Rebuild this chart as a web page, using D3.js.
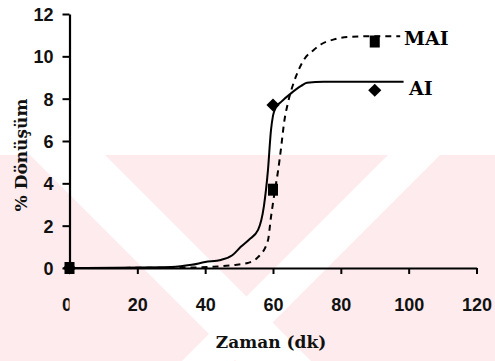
<!DOCTYPE html>
<html>
<head>
<meta charset="utf-8">
<script src="https://cdn.jsdelivr.net/npm/d3@7"></script>
<style>
  body { margin: 0; background: #fff; }
  svg { display: block; }
</style>
</head>
<body>
<div id="chart"></div>
<script>
// x ticks and y ticks
const xTicks = [0, 20, 40, 60, 80, 100, 120];
const yTicks = [0, 2, 4, 6, 8, 10, 12];

// measured points
const aiT = [0, 60, 90];
const aiY = [0, 7.7, 8.4];
const maiT = [0, 60, 90];
const maiY = [0, 3.7, 10.7];

// fitted curves
const aiCurveT = [0, 30, 36, 40, 44.6, 48, 50.5, 53, 55.6, 57.3, 58.5, 59.4, 60, 60.9, 62.4, 65.3, 68.3, 70, 75, 85, 98.5];
const aiCurveY = [0, 0.05, 0.15, 0.28, 0.38, 0.6, 1.0, 1.35, 1.8, 2.9, 4.6, 6.5, 7.2, 7.6, 7.85, 8.25, 8.6, 8.75, 8.8, 8.8, 8.8];
const maiCurveT = [0, 35, 48.4, 52.6, 55.5, 58.5, 59.4, 60.5, 61.5, 62.4, 63.3, 64.4, 66.2, 67.4, 69.2, 72, 74.2, 78, 81, 89, 97.5];
const maiCurveY = [0, 0.02, 0.14, 0.24, 0.5, 1.3, 2.4, 3.6, 4.6, 5.7, 6.9, 7.8, 8.8, 9.3, 9.86, 10.3, 10.57, 10.8, 10.9, 10.95, 10.95];

const width = 495, height = 361;
const x0 = 69.5, x1 = 476.5, y0 = 268, y1 = 14;

const x = d3.scaleLinear().domain([0, 120]).range([x0, x1]);
const y = d3.scaleLinear().domain([0, 12]).range([y0, y1]);

const svg = d3.select('#chart').append('svg')
  .attr('width', width)
  .attr('height', height);

// faint watermark in the background
const wm = svg.append('g');
wm.append('rect')
  .attr('x', 0).attr('y', 155)
  .attr('width', width).attr('height', height - 155)
  .attr('fill', '#fdebee');
wm.append('polygon')
  .attr('points', '30,155 105,155 311,361 236,361')
  .attr('fill', '#fff');
wm.append('polygon')
  .attr('points', '388,155 440,155 234,361 182,361')
  .attr('fill', '#fff');

const axisColor = '#000';

// y axis
const yAxis = svg.append('g')
  .attr('transform', 'translate(' + x0 + ',0)')
  .call(d3.axisLeft(y).tickValues(yTicks).tickSize(7).tickSizeOuter(0).tickFormat(d3.format('d')));

// x axis
const xAxis = svg.append('g')
  .attr('transform', 'translate(0,' + y0 + ')')
  .call(d3.axisBottom(x).tickValues(xTicks).tickSize(6).tickSizeOuter(0).tickFormat(d3.format('d')));

[yAxis, xAxis].forEach(function(g) {
  g.select('.domain').attr('stroke', axisColor).attr('stroke-width', 2.2);
  g.selectAll('.tick line').attr('stroke', axisColor).attr('stroke-width', 2);
  g.selectAll('.tick text')
    .attr('fill', '#111')
    .style('font-family', '"Liberation Sans", Arial, sans-serif')
    .style('font-size', '18px')
    .style('font-weight', 'bold');
});
yAxis.selectAll('.tick text').attr('x', -16).attr('dy', '0.36em');
xAxis.selectAll('.tick text').attr('y', 43).attr('dy', 0);

// the "0" under the x axis is cut off in the original
svg.append('clipPath').attr('id', 'zeroClip')
  .append('rect').attr('x', -80).attr('y', 0).attr('width', 82.5).attr('height', 60);
xAxis.selectAll('.tick')
  .filter(d => d === 0)
  .select('text')
  .attr('transform', 'translate(-3,0)')
  .attr('clip-path', 'url(#zeroClip)');

// axis titles
svg.append('text')
  .attr('x', 271)
  .attr('y', 348)
  .attr('text-anchor', 'middle')
  .style('font-family', '"DejaVu Serif", serif')
  .style('font-size', '17px')
  .style('font-weight', 'bold')
  .attr('fill', '#111')
  .text('Zaman (dk)');

svg.append('text')
  .attr('transform', 'translate(27,155) rotate(-90)')
  .attr('text-anchor', 'middle')
  .style('font-family', '"DejaVu Serif", serif')
  .style('font-size', '17px')
  .style('font-weight', 'bold')
  .attr('fill', '#111')
  .text('% Dönüşüm');

// curves
const line = d3.line()
  .x(d => x(d[0]))
  .y(d => y(d[1]))
  .curve(d3.curveMonotoneX);

const aiCurve = d3.zip(aiCurveT, aiCurveY);
const maiCurve = d3.zip(maiCurveT, maiCurveY);

svg.append('path')
  .datum(maiCurve)
  .attr('d', line)
  .attr('fill', 'none')
  .attr('stroke', '#000')
  .attr('stroke-width', 2)
  .attr('stroke-dasharray', '6,5');

svg.append('path')
  .datum(aiCurve)
  .attr('d', line)
  .attr('fill', 'none')
  .attr('stroke', '#000')
  .attr('stroke-width', 2);

// markers
svg.selectAll('.mai')
  .data(d3.zip(maiT, maiY))
  .join('rect')
  .attr('class', 'mai')
  .attr('x', d => x(d[0]) - 5)
  .attr('y', d => y(d[1]) - 6)
  .attr('width', 10)
  .attr('height', 12)
  .attr('fill', '#000');

const diamond = d3.symbol().type(d3.symbolDiamond2).size(110);
svg.selectAll('.ai')
  .data(d3.zip(aiT, aiY))
  .join('path')
  .attr('class', 'ai')
  .attr('d', diamond)
  .attr('transform', d => 'translate(' + x(d[0]) + ',' + y(d[1]) + ')')
  .attr('fill', '#000');

// series labels
svg.append('text')
  .attr('x', 404).attr('y', 45)
  .style('font-family', '"DejaVu Serif", serif')
  .style('font-size', '19px')
  .style('font-weight', 'bold')
  .attr('fill', '#000')
  .text('MAI');

svg.append('text')
  .attr('x', 409).attr('y', 95)
  .style('font-family', '"DejaVu Serif", serif')
  .style('font-size', '19px')
  .style('font-weight', 'bold')
  .attr('fill', '#000')
  .text('AI');
</script>
</body>
</html>
